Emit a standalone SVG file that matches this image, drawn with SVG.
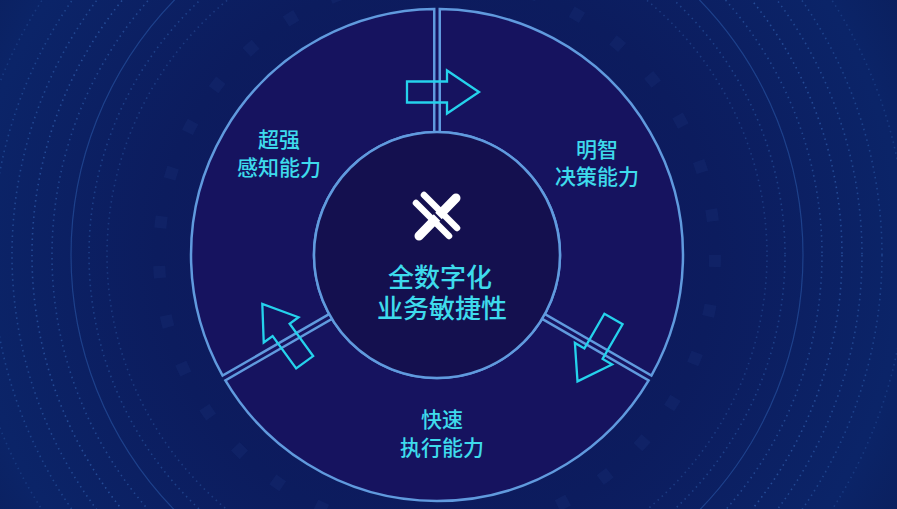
<svg xmlns="http://www.w3.org/2000/svg" xmlns:xlink="http://www.w3.org/1999/xlink" width="897" height="509" viewBox="0 0 897 509">
  <defs>
    <radialGradient id="bg" cx="437" cy="255" r="620" gradientUnits="userSpaceOnUse">
      <stop offset="0" stop-color="#11155c"/>
      <stop offset="0.45" stop-color="#0c1c5e"/>
      <stop offset="0.75" stop-color="#0b2468"/>
      <stop offset="1" stop-color="#0a1a52"/>
    </radialGradient>
    <path id="sector" d="M 439.75 132.03 L 439.75 9.02 A 246 246 0 0 1 651.40 375.61 L 544.87 314.10 A 123 123 0 0 0 439.75 132.03 Z"/>
    <path id="arrow" d="M -30 -10.5 L 10 -10.5 L 10 -21.5 L 42 0 L 10 21.5 L 10 10.5 L -30 10.5 Z"/>
    <style>
      .deco-dots { fill: none; stroke: #4a8ae0; stroke-width: 1.6; stroke-dasharray: 1.5 4; }
      .sector { fill: none; stroke: #609ade; stroke-width: 2.5; }
      .arrow { fill: none; stroke: #25d2ec; stroke-width: 2.3; stroke-linejoin: miter; }
      .label { font-family: "Liberation Sans", "Noto Sans CJK SC", sans-serif; font-weight: 500; fill: #3edbec; text-anchor: middle; }
      .side { font-size: 21px; }
      .main { font-size: 26px; }
    </style>
  </defs>

  <!-- background -->
  <rect x="0" y="0" width="897" height="509" fill="url(#bg)"/>
  <g id="background-rings">
    <circle cx="437" cy="255" r="278" fill="none" stroke="#3a6fc8" stroke-width="12" stroke-dasharray="12 38" opacity="0.08"/>
    <circle cx="437" cy="255" r="330" class="deco-dots" opacity="0.25"/>
    <circle cx="437" cy="255" r="348" class="deco-dots" opacity="0.3"/>
    <circle cx="437" cy="255" r="366" fill="none" stroke="#3f7fd8" stroke-width="1.2" opacity="0.35"/>
    <circle cx="437" cy="255" r="385" class="deco-dots" opacity="0.35"/>
    <circle cx="437" cy="255" r="405" class="deco-dots" opacity="0.4"/>
    <circle cx="437" cy="255" r="425" class="deco-dots" opacity="0.35"/>
    <circle cx="437" cy="255" r="445" class="deco-dots" opacity="0.3"/>
    <circle cx="437" cy="255" r="470" class="deco-dots" opacity="0.2"/>
  </g>

  <!-- ring -->
  <circle cx="437" cy="255" r="246" fill="#16135f"/>

  <g id="ring-sectors">
    <g id="sector-decision"><use xlink:href="#sector" class="sector"/></g>
    <g id="sector-execution"><use xlink:href="#sector" class="sector" transform="rotate(120 437 255)"/></g>
    <g id="sector-perception"><use xlink:href="#sector" class="sector" transform="rotate(240 437 255)"/></g>
  </g>

  <!-- center node -->
  <g id="center-node">
    <circle cx="437" cy="255" r="123" fill="#14104f" stroke="#609ade" stroke-width="2.5"/>
    <g id="logo" stroke-linecap="round">
      <line x1="456" y1="198" x2="419" y2="236" stroke="#ffffff" stroke-width="9"/>
      <line x1="416" y1="203" x2="449" y2="236" stroke="#ffffff" stroke-width="6.5"/>
      <line x1="424" y1="195" x2="457" y2="228" stroke="#ffffff" stroke-width="6.5"/>
      <line x1="418" y1="197" x2="456" y2="235" stroke="#14104f" stroke-width="2.2" stroke-linecap="butt"/>
    </g>
    <text class="label main"><tspan x="440" y="286.5">全数字化</tspan><tspan x="442" y="317.5">业务敏捷性</tspan></text>
  </g>

  <!-- connectors (cycle arrows) -->
  <g id="connectors">
    <use xlink:href="#arrow" class="arrow" transform="translate(437 92)"/>
    <use xlink:href="#arrow" class="arrow" transform="translate(598.5 345) rotate(120)"/>
    <use xlink:href="#arrow" class="arrow" transform="translate(287 338) rotate(234)"/>
  </g>

  <g id="node-perception">
    <text class="label side"><tspan x="279" y="146.5">超强</tspan><tspan x="279" y="174.5">感知能力</tspan></text>
  </g>
  <g id="node-decision">
    <text class="label side"><tspan x="597" y="156.5">明智</tspan><tspan x="597" y="184">决策能力</tspan></text>
  </g>
  <g id="node-execution">
    <text class="label side"><tspan x="442" y="427">快速</tspan><tspan x="442" y="455">执行能力</tspan></text>
  </g>
</svg>
